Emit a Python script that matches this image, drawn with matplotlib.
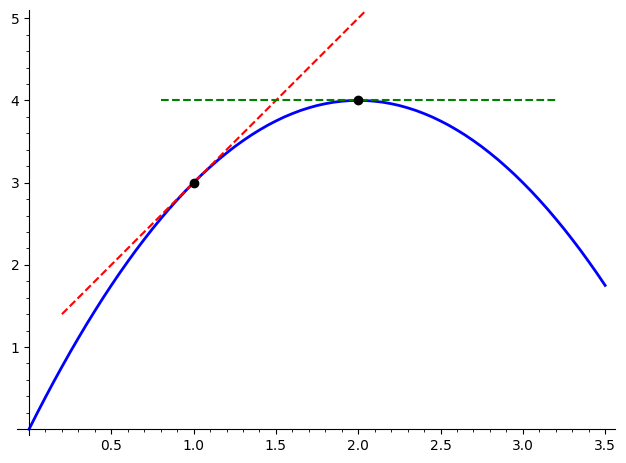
import matplotlib
matplotlib.use("Agg")
import matplotlib.pyplot as plt
from matplotlib.ticker import FixedLocator, MultipleLocator

# parabola, every 0.05 in x
curve_x = [0.00, 0.05, 0.10, 0.15, 0.20, 0.25, 0.30, 0.35, 0.40, 0.45,
           0.50, 0.55, 0.60, 0.65, 0.70, 0.75, 0.80, 0.85, 0.90, 0.95,
           1.00, 1.05, 1.10, 1.15, 1.20, 1.25, 1.30, 1.35, 1.40, 1.45,
           1.50, 1.55, 1.60, 1.65, 1.70, 1.75, 1.80, 1.85, 1.90, 1.95,
           2.00, 2.05, 2.10, 2.15, 2.20, 2.25, 2.30, 2.35, 2.40, 2.45,
           2.50, 2.55, 2.60, 2.65, 2.70, 2.75, 2.80, 2.85, 2.90, 2.95,
           3.00, 3.05, 3.10, 3.15, 3.20, 3.25, 3.30, 3.35, 3.40, 3.45,
           3.50]
curve_y = [0.000, 0.198, 0.390, 0.578, 0.760, 0.938, 1.110, 1.278, 1.440, 1.598,
           1.750, 1.898, 2.040, 2.178, 2.310, 2.438, 2.560, 2.678, 2.790, 2.898,
           3.000, 3.098, 3.190, 3.278, 3.360, 3.438, 3.510, 3.578, 3.640, 3.698,
           3.750, 3.798, 3.840, 3.878, 3.910, 3.938, 3.960, 3.978, 3.990, 3.998,
           4.000, 3.998, 3.990, 3.978, 3.960, 3.938, 3.910, 3.878, 3.840, 3.798,
           3.750, 3.698, 3.640, 3.578, 3.510, 3.438, 3.360, 3.278, 3.190, 3.098,
           3.000, 2.898, 2.790, 2.678, 2.560, 2.438, 2.310, 2.178, 2.040, 1.898,
           1.750]

# tangent lines
tan1_x = [0.2, 2.05]
tan1_y = [1.4, 5.1]
tan2_x = [0.8, 3.2]
tan2_y = [4.0, 4.0]

# marked points
pts_x = [1.0, 2.0]
pts_y = [3.0, 4.0]

xticks = [0.5, 1.0, 1.5, 2.0, 2.5, 3.0, 3.5]
yticks = [1, 2, 3, 4, 5]

fig = plt.figure(figsize=(6.26, 4.63), dpi=100)
ax = fig.add_axes([17/626, 1 - 435/463, (615 - 17)/626, (435 - 10)/463])

ax.plot(curve_x, curve_y, color="blue", lw=2)
ax.plot(tan1_x, tan1_y, color="red", lw=1.5, ls="--")
ax.plot(tan2_x, tan2_y, color="green", lw=1.5, ls="--")
ax.plot(pts_x, pts_y, "o", color="black", ms=6, zorder=5)

ax.set_xlim(-0.073, 3.56)
ax.set_ylim(-0.07, 5.1)

ax.spines["left"].set_position(("data", 0))
ax.spines["bottom"].set_position(("data", 0))
ax.spines["top"].set_visible(False)
ax.spines["right"].set_visible(False)

ax.xaxis.set_major_locator(FixedLocator(xticks))
ax.yaxis.set_major_locator(FixedLocator(yticks))
ax.xaxis.set_minor_locator(MultipleLocator(0.1))
ax.yaxis.set_minor_locator(MultipleLocator(0.2))
ax.set_xticklabels([f"{t:.1f}" for t in xticks])
ax.set_yticklabels([str(t) for t in yticks])

fig.savefig("out.png", dpi=100)
